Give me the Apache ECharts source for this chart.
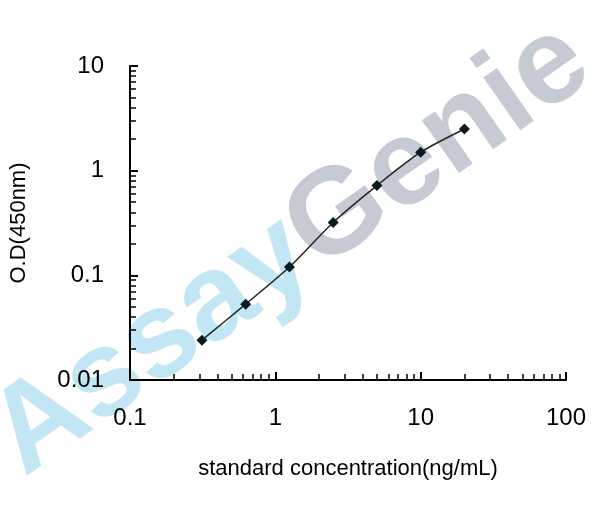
<!DOCTYPE html>
<html><head><meta charset="utf-8">
<script src="https://cdn.jsdelivr.net/npm/echarts@6/dist/echarts.min.js"></script>
<style>html,body{margin:0;padding:0;background:#fff}#c{width:608px;height:506px}</style>
</head><body><div id="c"></div>
<script>
const concentrations = [0.3125, 0.625, 1.25, 2.5, 5, 10, 20];
const odValues = [0.024, 0.053, 0.12, 0.32, 0.72, 1.5, 2.5];
const xTickLabels = ['0.1', '1', '10', '100'];
const yTickLabels = ['0.01', '0.1', '1', '10'];
const chart = echarts.init(document.getElementById('c'));
const font = 'Arial, "Liberation Sans", sans-serif';
chart.setOption({
  animation: false,
  graphic: [{
    type: 'text', x: 40, y: 500, rotation: 35 * Math.PI / 180, z: 0,
    style: {
      text: '{a|Assay}{g|Genie}', verticalAlign: 'bottom',
      rich: {
        a: { fontSize: 122, fontWeight: 'bold', fontFamily: font, fill: 'rgba(120,200,230,0.45)' },
        g: { fontSize: 122, fontWeight: 'bold', fontFamily: font, fill: 'rgba(140,150,170,0.5)' }
      }
    }
  }],
  grid: { left: 130, right: 42, top: 66, bottom: 126 },
  xAxis: {
    type: 'log', min: 0.1, max: 100, logBase: 10,
    name: 'standard concentration(ng/mL)', nameLocation: 'middle', nameGap: 78,
    nameTextStyle: { fontSize: 22, fontFamily: font, color: '#000' },
    axisLine: { lineStyle: { color: '#000', width: 2 } },
    axisTick: { inside: true, length: 8, lineStyle: { color: '#000', width: 2 } },
    minorTick: { show: true, splitNumber: 9, length: 6, lineStyle: { color: '#000', width: 1.5 } },
    axisLabel: { fontSize: 24, fontFamily: font, color: '#000', margin: 26,
      formatter: v => xTickLabels.find(t => Math.abs(parseFloat(t) - v) < 1e-9) || '' },
    splitLine: { show: false }
  },
  yAxis: {
    type: 'log', min: 0.01, max: 10, logBase: 10,
    name: 'O.D(450nm)', nameLocation: 'middle', nameGap: 100,
    nameTextStyle: { fontSize: 22, fontFamily: font, color: '#000' },
    axisLine: { show: true, lineStyle: { color: '#000', width: 2 } },
    axisTick: { show: true, inside: true, length: 8, lineStyle: { color: '#000', width: 2 } },
    minorTick: { show: true, splitNumber: 9, length: 6, lineStyle: { color: '#000', width: 1.5 } },
    axisLabel: { fontSize: 24, fontFamily: font, color: '#000', margin: 26,
      formatter: v => yTickLabels.find(t => Math.abs(parseFloat(t) - v) < 1e-9) || '' },
    splitLine: { show: false }
  },
  series: [{
    type: 'line', smooth: 0.25, z: 5,
    data: concentrations.map((c, i) => [c, odValues[i]]),
    symbol: 'diamond', symbolSize: 11,
    itemStyle: { color: '#0a1a22' },
    lineStyle: { color: '#222', width: 1.5 }
  }]
});
</script></body></html>
